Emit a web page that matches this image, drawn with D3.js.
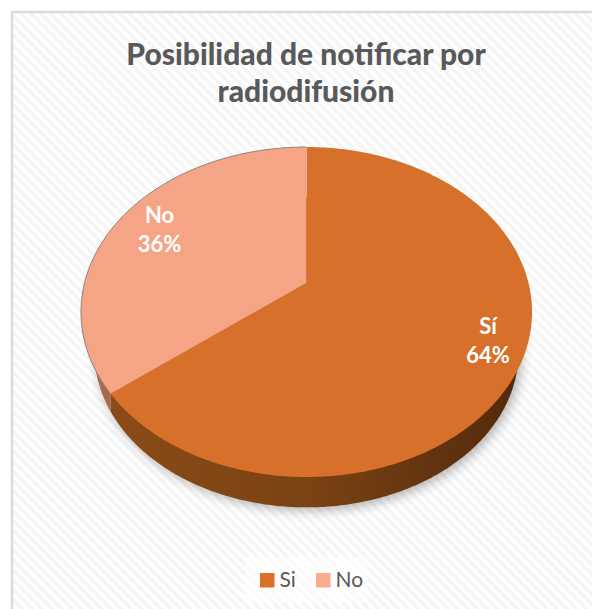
<!DOCTYPE html>
<html>
<head>
<meta charset="utf-8">
<script src="https://d3js.org/d3.v7.min.js"></script>
<style>
  html, body { margin: 0; padding: 0; background: #fff; }
  svg { display: block; }
  text { font-family: Lato, "Open Sans", sans-serif; }
</style>
</head>
<body>
<div id="chart"></div>
<script>
// Data
var categories = ["Si", "No"];
var labelNames = ["Sí", "No"];
var values = [64.4, 35.6];
var colors = ["#d6702a", "#f5a585"];
var wallColors = ["url(#wall)", "#a8694c"];
var legendColors = ["#dc7028", "#fbab8d"];
var titleLines = ["Posibilidad de notificar por", "radiodifusión"];

var w = 592, h = 609;

var svg = d3.select("#chart").append("svg")
  .attr("width", w)
  .attr("height", h);

var defs = svg.append("defs");

// Diagonal stripes of the chart area
var stripes = defs.append("pattern")
  .attr("id", "stripes")
  .attr("patternUnits", "userSpaceOnUse")
  .attr("width", 7).attr("height", 7)
  .attr("patternTransform", "rotate(45)");
stripes.append("rect").attr("width", 7).attr("height", 7).attr("fill", "#fff");
stripes.append("rect").attr("width", 7).attr("height", 3.5).attr("fill", "#f5f5f5");

defs.append("filter").attr("id", "blur")
  .attr("x", "-10%").attr("y", "-10%").attr("width", "120%").attr("height", "120%")
  .append("feGaussianBlur").attr("stdDeviation", 6);

// Shading of the pie wall, left to right
var wallGrad = defs.append("linearGradient")
  .attr("id", "wall")
  .attr("gradientUnits", "userSpaceOnUse")
  .attr("x1", 90).attr("x2", 530).attr("y1", 0).attr("y2", 0);
wallGrad.append("stop").attr("offset", 0).attr("stop-color", "#8c4c18");
wallGrad.append("stop").attr("offset", 0.5).attr("stop-color", "#7a4212");
wallGrad.append("stop").attr("offset", 1).attr("stop-color", "#50290c");

// Background and the left and top border
svg.append("rect").attr("width", w).attr("height", h).attr("fill", "#fff");
svg.append("rect").attr("x", 12).attr("y", 12).attr("width", w - 12).attr("height", h - 12)
  .attr("fill", "url(#stripes)");
svg.append("path").attr("d", "M12," + h + "V12H" + w)
  .attr("fill", "none").attr("stroke", "#dcdcdc").attr("stroke-width", 2.5);

// Title
svg.append("g").selectAll("text")
  .data(titleLines)
  .enter().append("text")
  .text(function(d) { return d; })
  .attr("x", 306)
  .attr("y", function(d, i) { return 65 + i * 37; })
  .attr("text-anchor", "middle")
  .attr("font-size", 30)
  .attr("font-weight", 900)
  .attr("fill", "#595959");

// Tilted pie: unit circle to the picture through a perspective
var cx = 306.5, cy = 283, a = 222, b = 159.9, k = 0.1758;
function project(angle, f) {
  var X = Math.sin(angle) * f, Y = -Math.cos(angle) * f, s = 1 - k * Y;
  return [cx + a * X / s, cy + b * Y / s];
}

var pie = d3.pie().sort(null);
var arcs = pie(values);
var line = d3.line();

function outline(start, end) {
  var n = Math.ceil((end - start) / 0.01);
  return d3.range(n + 1).map(function(i) {
    return project(start + (end - start) * i / n, 1);
  });
}
var fullRim = outline(0, 2 * Math.PI);

// Wall and shadow are the rim pushed down and slightly shrunk
var wallScale = 0.94, wallShift = 42;
var wallRim = fullRim.map(function(p) {
  return [cx + (p[0] - cx) * wallScale, cy + (p[1] - cy) * wallScale + wallShift];
});

svg.append("path")
  .attr("d", line(wallRim) + "Z")
  .attr("transform", "translate(3,3)")
  .attr("fill", "#000").attr("opacity", 0.3)
  .attr("filter", "url(#blur)");

// The wall changes colour where the slices meet at the rim
var splitX = project(arcs[0].endAngle, 1)[0];
defs.append("clipPath").attr("id", "wallSi")
  .append("rect").attr("x", splitX).attr("y", 0).attr("width", w - splitX).attr("height", h);
defs.append("clipPath").attr("id", "wallNo")
  .append("rect").attr("x", 0).attr("y", 0).attr("width", splitX).attr("height", h);

svg.append("g").selectAll("path")
  .data(categories)
  .enter().append("path")
  .attr("d", line(wallRim) + "Z")
  .attr("fill", function(d, i) { return wallColors[i]; })
  .attr("clip-path", function(d, i) { return i == 0 ? "url(#wallSi)" : "url(#wallNo)"; });

// Top face
svg.append("g").selectAll("path")
  .data(arcs)
  .enter().append("path")
  .attr("d", function(d) {
    return line([[cx, cy]].concat(outline(d.startAngle, d.endAngle))) + "Z";
  })
  .attr("fill", function(d, i) { return colors[i]; });

svg.append("path")
  .attr("d", line(outline(arcs[1].startAngle, arcs[1].endAngle)))
  .attr("fill", "none").attr("stroke", "#8c8078").attr("stroke-width", 1);

// Data labels
var labelFactor = [0.85, 0.78];
var labelLift = [5, 1];
var labels = svg.append("g").selectAll("text")
  .data(arcs)
  .enter().append("text")
  .attr("text-anchor", "middle")
  .attr("font-size", 22)
  .attr("font-weight", 700)
  .attr("fill", "#fff")
  .attr("transform", function(d, i) {
    var p = project((d.startAngle + d.endAngle) / 2, labelFactor[i]);
    return "translate(" + p[0] + "," + (p[1] - labelLift[i]) + ")";
  });
labels.append("tspan").attr("x", 0).attr("y", -8)
  .text(function(d, i) { return labelNames[i]; });
labels.append("tspan").attr("x", 0).attr("y", 21)
  .text(function(d) { return d3.format(".0f")(d.value) + "%"; });

// Legend
var legend = svg.append("g");
legend.append("rect")
  .attr("x", 245).attr("y", 557).attr("width", 123).attr("height", 46)
  .attr("fill", "#fff").attr("opacity", 0.6);

var legendX = d3.scaleOrdinal().domain(categories).range([260, 316]);
var items = legend.selectAll("g")
  .data(categories)
  .enter().append("g")
  .attr("transform", function(d) { return "translate(" + legendX(d) + ",573)"; });
items.append("rect")
  .attr("width", 14.5).attr("height", 14.5)
  .attr("fill", function(d, i) { return legendColors[i]; });
items.append("text")
  .text(function(d) { return d; })
  .attr("x", 19.5).attr("y", 13.5)
  .attr("font-size", 21)
  .attr("fill", "#595959");
</script>
</body>
</html>
